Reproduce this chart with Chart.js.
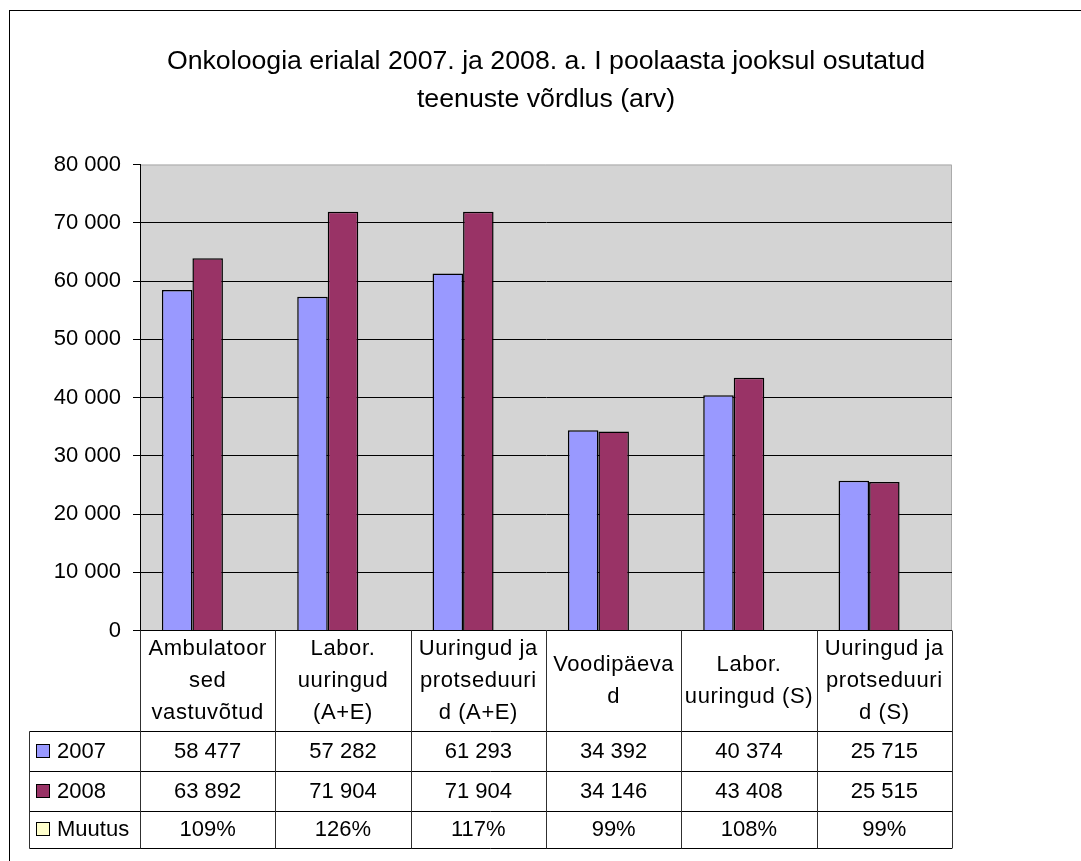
<!DOCTYPE html>
<html><head><meta charset="utf-8">
<script src="https://cdn.jsdelivr.net/npm/chart.js@4"></script>
<style>html,body{margin:0;padding:0;background:#fff;overflow:hidden}#wrap{width:1081px;height:861px;position:relative}</style>
</head><body><div id="wrap"><canvas id="c" width="1081" height="861"></canvas></div>
<script>
const categories = [
  ["Ambulatoor","sed","vastuvõtud"],
  ["Labor.","uuringud","(A+E)"],
  ["Uuringud ja","protseduuri","d (A+E)"],
  ["Voodipäeva","d"],
  ["Labor.","uuringud (S)"],
  ["Uuringud ja","protseduuri","d (S)"]
];
const seriesNames = ["2007", "2008", "Muutus"];
const values2007 = [58477, 57282, 61293, 34392, 40374, 25715];
const values2008 = [63892, 71904, 71904, 34146, 43408, 25515];
const muutus = [1.09, 1.26, 1.17, 0.99, 1.08, 0.99];
const yTicks = [0, 10000, 20000, 30000, 40000, 50000, 60000, 70000, 80000];
const titleLines = ["Onkoloogia erialal 2007. ja 2008. a. I poolaasta jooksul osutatud", "teenuste võrdlus (arv)"];

const FONT = "'Liberation Sans', Arial, sans-serif";
const colors = ["#9999FF", "#993366", "#FFFFCC"];

function fmtNum(v){ return String(Math.round(v)).replace(/\B(?=(\d{3})+(?!\d))/g, " "); }
function fmtPct(v){ return Math.round(v*100) + "%"; }

const bgPlugin = {
  id: "bg",
  beforeDraw(chart){
    const ctx = chart.ctx, a = chart.chartArea;
    ctx.save();
    ctx.fillStyle = "#fff";
    ctx.fillRect(0, 0, chart.width, chart.height);
    ctx.strokeStyle = "#000";
    ctx.lineWidth = 1;
    ctx.strokeRect(9.5, 10.5, chart.width + 50, chart.height + 50);
    ctx.fillStyle = "#D4D4D4";
    ctx.fillRect(a.left, a.top, a.right - a.left, a.bottom - a.top);
    ctx.strokeStyle = "#ABABAB";
    ctx.beginPath();
    ctx.moveTo(a.left, a.top + 0.5);
    ctx.lineTo(a.right - 0.5, a.top + 0.5);
    ctx.lineTo(a.right - 0.5, a.bottom);
    ctx.stroke();
    ctx.restore();
  }
};

const tablePlugin = {
  id: "table",
  afterDraw(chart){
    const ctx = chart.ctx, a = chart.chartArea, xs = chart.scales.x;
    const n = categories.length;
    const colW = xs.getPixelForValue(1) - xs.getPixelForValue(0);
    const edges = [];
    for (let i = 0; i < n; i++) edges.push(xs.getPixelForValue(i) - colW/2);
    edges.push(xs.getPixelForValue(n-1) + colW/2);
    const tableLeft = 29.5;
    const rowY = [a.bottom, a.bottom + 100, a.bottom + 140.5, a.bottom + 180, a.bottom + 217];
    ctx.save();
    ctx.lineWidth = 1;
    ctx.strokeStyle = "#000";
    ctx.beginPath();
    for (let r = 1; r < rowY.length; r++){
      const y = Math.round(rowY[r]) + 0.5;
      ctx.moveTo(tableLeft, y); ctx.lineTo(edges[n], y);
    }
    ctx.stroke();
    ctx.strokeStyle = "#303030";
    ctx.beginPath();
    for (let i = 0; i <= n; i++){
      const x = Math.round(edges[i]) + 0.5;
      ctx.moveTo(x, a.bottom); ctx.lineTo(x, Math.round(rowY[4]) + 0.5);
    }
    ctx.moveTo(tableLeft, Math.round(rowY[1]) + 0.5); ctx.lineTo(tableLeft, Math.round(rowY[4]) + 0.5);
    ctx.stroke();
    ctx.fillStyle = "#000";
    ctx.font = "22px " + FONT;
    ctx.textAlign = "center";
    ctx.textBaseline = "middle";
    const lh = 32;
    if ("letterSpacing" in ctx) ctx.letterSpacing = "0.6px";
    for (let i = 0; i < n; i++){
      const cx = (edges[i] + edges[i+1]) / 2;
      const lines = categories[i];
      const cy = (rowY[0] + rowY[1]) / 2;
      lines.forEach((t, k) => ctx.fillText(t, cx, cy + (k - (lines.length - 1)/2) * lh));
    }
    if ("letterSpacing" in ctx) ctx.letterSpacing = "0px";
    const rowsData = [values2007.map(fmtNum), values2008.map(fmtNum), muutus.map(fmtPct)];
    for (let r = 0; r < 3; r++){
      const cy = (rowY[r+1] + rowY[r+2]) / 2;
      for (let i = 0; i < n; i++){
        const cx = (edges[i] + edges[i+1]) / 2;
        ctx.fillText(rowsData[r][i], cx, cy + 1);
      }
      ctx.fillStyle = colors[r];
      ctx.fillRect(37, Math.round(cy) - 6, 12, 12);
      ctx.strokeStyle = "#000";
      ctx.strokeRect(36.5, Math.round(cy) - 6.5, 13, 13);
      ctx.fillStyle = "#000";
      ctx.textAlign = "left";
      ctx.fillText(seriesNames[r], 57, cy + 1);
      ctx.textAlign = "center";
    }
    ctx.restore();
  }
};

new Chart(document.getElementById("c"), {
  type: "bar",
  data: {
    labels: categories,
    datasets: [
      { label: seriesNames[0], data: values2007, backgroundColor: colors[0], borderColor: "#000", borderWidth: 1.5 },
      { label: seriesNames[1], data: values2008, backgroundColor: colors[1], borderColor: "#000", borderWidth: 1.5 },
      { label: seriesNames[2], data: muutus, backgroundColor: "rgba(0,0,0,0)", borderColor: "rgba(0,0,0,0)", borderWidth: 0 }
    ]
  },
  options: {
    responsive: false,
    animation: false,
    devicePixelRatio: 1,
    datasets: { bar: { categoryPercentage: 0.6765, barPercentage: 1 } },
    layout: { padding: { left: 0, right: 129, top: 0, bottom: 230.5 } },
    plugins: {
      legend: { display: false },
      tooltip: { enabled: false },
      title: {
        display: true,
        fullSize: false,
        text: titleLines,
        color: "#000",
        font: { family: FONT, size: 26.7, weight: "normal", lineHeight: 1.42 },
        padding: { top: 43, bottom: 45.7 }
      }
    },
    scales: {
      x: { display: false },
      y: {
        min: 0, max: 80000,
        afterFit(scale){ scale.width = 140; },
        afterBuildTicks(scale){ scale.ticks = yTicks.map(v => ({ value: v })); },
        ticks: {
          color: "#000",
          font: { family: FONT, size: 22 },
          padding: 12,
          callback: v => fmtNum(v)
        },
        grid: {
          color: ctx => (ctx.tick && ctx.tick.value === 80000) ? "rgba(0,0,0,0)" : "#000",
          tickColor: "#000",
          tickLength: 7,
          lineWidth: 1
        },
        border: { display: true, color: "#000", width: 1 }
      }
    }
  },
  plugins: [bgPlugin, tablePlugin]
});
</script>
</body></html>
